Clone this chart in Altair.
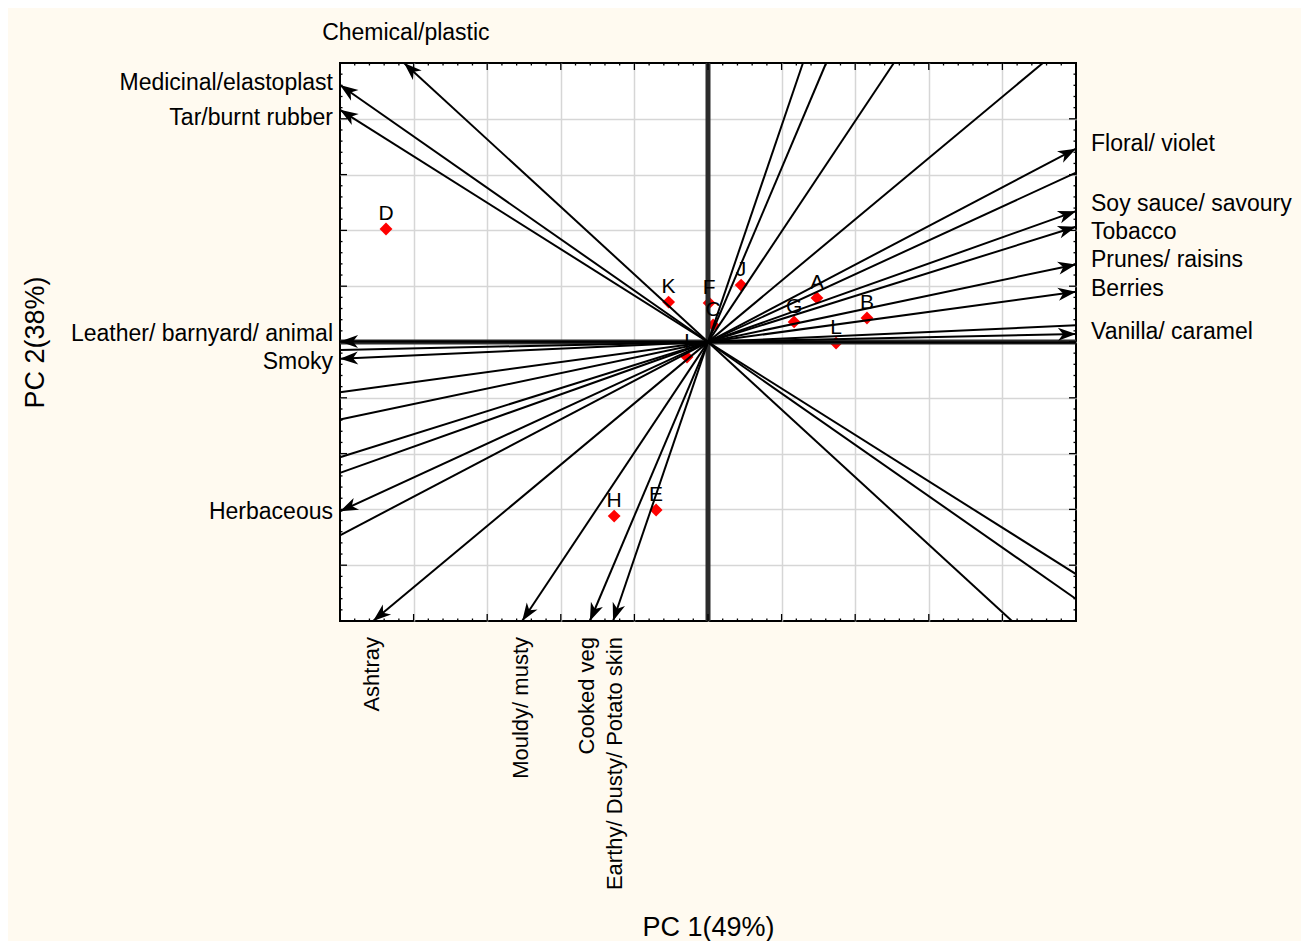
import altair as alt
import pandas as pd
import numpy as np

# ---------------- data ----------------
var_names = ["Chemical/plastic", "Medicinal/elastoplast", "Tar/burnt rubber",
             "Leather/ barnyard/ animal", "Smoky", "Herbaceous",
             "Ashtray", "Mouldy/ musty", "Cooked veg", "Earthy/ Dusty/ Potato skin",
             "Floral/ violet", "Soy sauce/ savoury", "Tobacco", "Prunes/ raisins",
             "Berries", "Vanilla/ caramel"]
var_x = [-0.826, -1.0, -1.0, -1.0, -1.0, -1.0,
         -0.910, -0.505, -0.321, -0.258,
         1.0, 1.0, 1.0, 1.0, 1.0, 1.0]
var_y = [1.0, 0.921, 0.832, 0.002, -0.060, -0.607,
         -1.0, -1.0, -1.0, -1.0,
         0.693, 0.469, 0.413, 0.278, 0.180, 0.029]
var_side = ["top", "left", "left", "left", "left", "left",
            "bottom", "bottom", "bottom", "bottom",
            "right", "right", "right", "right", "right", "right"]
label_x = [-0.821, -1, -1, -1, -1, -1,
           -0.913, -0.508, -0.330, -0.253,
           1, 1, 1, 1, 1, 1]
label_y = [1, 0.928, 0.803, 0.029, -0.072, -0.609,
           -1, -1, -1, -1,
           0.710, 0.495, 0.394, 0.294, 0.190, 0.036]

sample_names = ["D", "K", "F", "C", "J", "A", "G", "B", "L", "I", "H", "E"]
sample_x = [-0.875, -0.107, 0.003, 0.014, 0.090, 0.296, 0.234, 0.432, 0.348, -0.057, -0.255, -0.141]
sample_y = [0.405, 0.143, 0.140, 0.061, 0.204, 0.158, 0.072, 0.086, -0.004, -0.054, -0.624, -0.602]

grid_vals = [-0.8, -0.6, -0.4, -0.2, 0.0, 0.2, 0.4, 0.6, 0.8]
minor_vals = [round(-1 + 0.04 * i, 2) for i in range(1, 50) if i % 5 != 0]

# ---------------- layout constants ----------------
W, H = 736, 558
FONT = "Liberation Sans"
ARROW_PATH = "M0,0 L0.36,1 L0,0.72 L-0.36,1 Z"

dv = pd.DataFrame({"name": var_names, "x": var_x, "y": var_y, "side": var_side,
                   "lx": label_x, "ly": label_y})
dv["nx"] = -dv["x"]
dv["ny"] = -dv["y"]
dv["ang"] = (np.degrees(np.arctan2(dv["x"] * W / 2, dv["y"] * H / 2))) % 360

ds = pd.DataFrame({"name": sample_names, "x": sample_x, "y": sample_y})

xs = alt.Scale(domain=[-1, 1], nice=False, zero=False)
ys = alt.Scale(domain=[-1, 1], nice=False, zero=False)
xaxis = alt.Axis(title="PC 1(49%)", values=grid_vals, grid=True, gridColor="#d6d6d6",
                 gridWidth=1.5, labels=False, ticks=False, domain=False,
                 titleFont=FONT, titleFontSize=27, titleFontWeight="normal",
                 titleColor="black", titlePadding=293)
yaxis = alt.Axis(title="PC 2(38%)", values=grid_vals, grid=True, gridColor="#d6d6d6",
                 gridWidth=1.5, labels=False, ticks=False, domain=False,
                 titleFont=FONT, titleFontSize=27, titleFontWeight="normal",
                 titleColor="black", titlePadding=291)


def X(f):
    return alt.X(f, type="quantitative", scale=xs, axis=xaxis)


def Y(f):
    return alt.Y(f, type="quantitative", scale=ys, axis=yaxis)


zero = pd.DataFrame({"v": [0.0]})
vline = alt.Chart(zero).mark_rule(color="#2b2b2b", strokeWidth=5).encode(x=X("v"))
hline = alt.Chart(zero).mark_rule(color="#2b2b2b", strokeWidth=5).encode(y=Y("v"))

# inner ticks on the frame
tv_major = pd.DataFrame({"p": grid_vals * 2, "q": [1.0] * 9 + [-1.0] * 9})
tv_minor = pd.DataFrame({"p": minor_vals * 2, "q": [1.0] * len(minor_vals) + [-1.0] * len(minor_vals)})
ticks = []
for df, sz in [(tv_major, 14), (tv_minor, 5)]:
    ticks.append(alt.Chart(df).mark_tick(orient="vertical", size=sz, thickness=1.3,
                                         color="black", clip=True, opacity=1)
                 .encode(x=X("p"), y=Y("q")))
    ticks.append(alt.Chart(df).mark_tick(orient="horizontal", size=sz, thickness=1.3,
                                         color="black", clip=True, opacity=1)
                 .encode(x=X("q"), y=Y("p")))

lines = alt.Chart(dv).mark_rule(color="black", strokeWidth=2).encode(
    x=X("nx"), y=Y("ny"), x2="x", y2="y")
heads = alt.Chart(dv).mark_point(shape=ARROW_PATH, filled=True, color="black",
                                 opacity=1, size=1300, strokeWidth=0).encode(
    x=X("x"), y=Y("y"), angle=alt.Angle("ang:Q", scale=None))

pts = alt.Chart(ds).mark_point(shape="diamond", filled=True, color="#ff0000",
                               opacity=1, size=165).encode(x=X("x"), y=Y("y"))
pt_labels = alt.Chart(ds).mark_text(font=FONT, fontSize=21, color="black",
                                    baseline="alphabetic", dy=-9).encode(
    x=X("x"), y=Y("y"), text="name")

LAB = 23
lab_left = alt.Chart(dv).transform_filter(alt.datum.side == "left").mark_text(
    font=FONT, fontSize=LAB, align="right", baseline="middle", dx=-7, color="black"
).encode(x=X("lx"), y=Y("ly"), text="name")
lab_right = alt.Chart(dv).transform_filter(alt.datum.side == "right").mark_text(
    font=FONT, fontSize=LAB, align="left", baseline="middle", dx=15, color="black"
).encode(x=X("lx"), y=Y("ly"), text="name")
lab_top = alt.Chart(dv).transform_filter(alt.datum.side == "top").mark_text(
    font=FONT, fontSize=LAB, align="center", baseline="middle", dy=-30, color="black"
).encode(x=X("lx"), y=Y("ly"), text="name")
lab_bottom = alt.Chart(dv).transform_filter(alt.datum.side == "bottom").mark_text(
    font=FONT, fontSize=22, align="right", baseline="middle", angle=270, dx=-16,
    color="black"
).encode(x=X("lx"), y=Y("ly"), text="name")

chart = alt.layer(
    pts, vline, hline, lines, heads, *ticks, pt_labels,
    lab_left, lab_right, lab_top, lab_bottom
).properties(
    width=W, height=H,
    padding={"left": 332, "top": 55, "right": 225, "bottom": 320},
    autosize=alt.AutoSizeParams(type="none"),
).configure(
    background="#FFFAF0",
).configure_view(
    fill="white", stroke="black", strokeWidth=2
)

chart.save("out.html", embed_options={"renderer": "svg", "actions": False})
